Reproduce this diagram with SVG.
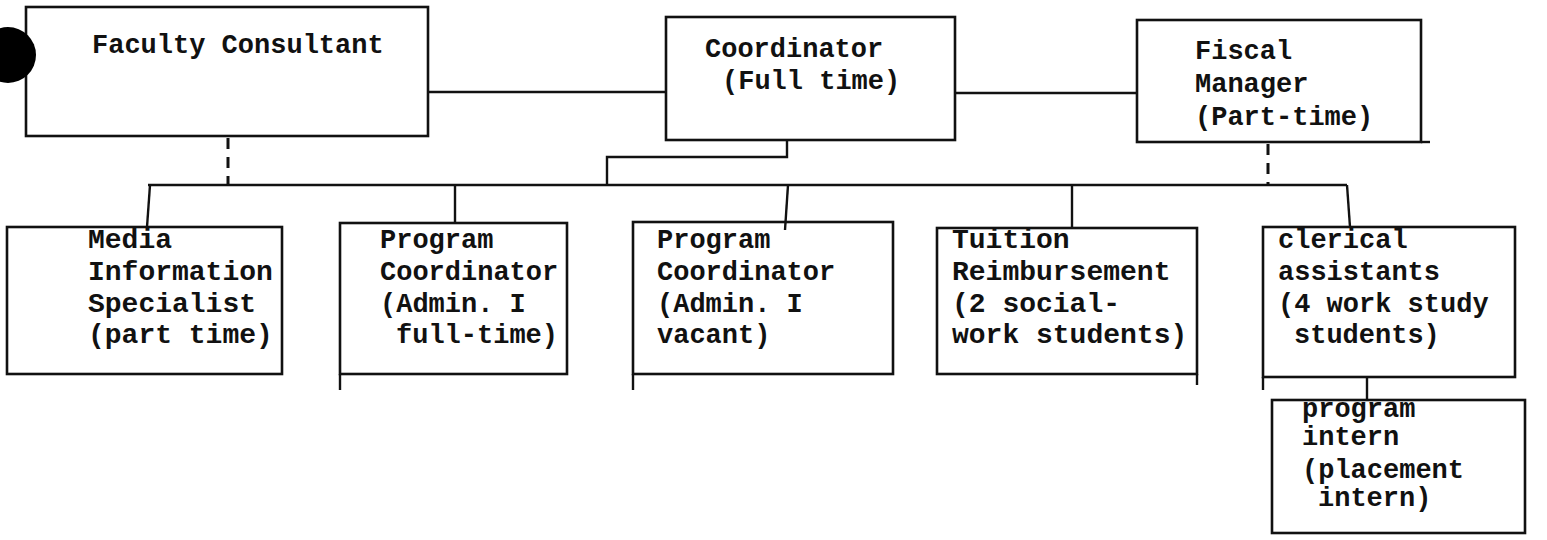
<svg xmlns="http://www.w3.org/2000/svg" width="1547" height="540" viewBox="0 0 1547 540">
<style>
.box{fill:none;stroke:#111;stroke-width:2.6}
.ln{fill:none;stroke:#111;stroke-width:2.4}
.dash{fill:none;stroke:#111;stroke-width:3;stroke-dasharray:11 8}
text{font-family:"Liberation Mono","DejaVu Sans Mono",monospace;font-size:27px;fill:#111;font-weight:bold}
.lg{font-size:28px}
</style>
<rect width="1547" height="540" fill="#fff"/>
<g id="connectors">
<line class="ln" x1="428" y1="92" x2="666" y2="92"/>
<line class="ln" x1="955" y1="93" x2="1137" y2="93"/>
<polyline class="ln" points="787,140 787,157 607,157 607,185"/>
<line class="ln" x1="148" y1="185" x2="1347" y2="185"/>
<line class="dash" x1="228" y1="138" x2="228" y2="185"/>
<line class="dash" x1="1268" y1="144" x2="1268" y2="185"/>
<line class="ln" x1="150" y1="185" x2="147" y2="227"/>
<line class="ln" x1="455" y1="185" x2="455" y2="223"/>
<line class="ln" x1="788" y1="185" x2="785" y2="230"/>
<line class="ln" x1="1072" y1="185" x2="1072" y2="228"/>
<line class="ln" x1="1347" y1="185" x2="1350" y2="227"/>
<line class="ln" x1="1367" y1="377" x2="1367" y2="400"/>
</g>
<g id="faculty">
<rect class="box" x="26" y="7" width="402" height="129"/>
<circle cx="8" cy="55" r="28" fill="#000"/>
<text x="92" y="53">Faculty Consultant</text>
</g>
<g id="coordinator">
<rect class="box" x="666" y="17" width="289" height="123"/>
<text x="705" y="57">Coordinator</text>
<text x="722" y="89">(Full time)</text>
</g>
<g id="fiscal">
<rect class="box" x="1137" y="20" width="284" height="122"/>
<line class="ln" x1="1421" y1="142" x2="1430" y2="142"/>
<text x="1195" y="59">Fiscal</text>
<text x="1195" y="92">Manager</text>
<text x="1195" y="125">(Part-time)</text>
</g>
<g id="media">
<rect class="box" x="7" y="227" width="275" height="147"/>
<text class="lg" x="88" y="248">Media</text>
<text class="lg" x="88" y="280">Information</text>
<text class="lg" x="88" y="312">Specialist</text>
<text class="lg" x="88" y="343">(part time)</text>
</g>
<g id="progcoord1">
<rect class="box" x="340" y="223" width="227" height="151"/>
<line class="ln" x1="340" y1="374" x2="340" y2="390"/>
<text x="380" y="248">Program</text>
<text x="380" y="280">Coordinator</text>
<text x="380" y="312">(Admin. I</text>
<text x="396" y="343">full-time)</text>
</g>
<g id="progcoord2">
<rect class="box" x="633" y="222" width="260" height="152"/>
<line class="ln" x1="633" y1="374" x2="633" y2="390"/>
<text x="657" y="248">Program</text>
<text x="657" y="280">Coordinator</text>
<text x="657" y="312">(Admin. I</text>
<text x="657" y="343">vacant)</text>
</g>
<g id="tuition">
<rect class="box" x="937" y="228" width="260" height="146"/>
<line class="ln" x1="1197" y1="374" x2="1197" y2="385"/>
<text class="lg" x="952" y="248">Tuition</text>
<text class="lg" x="952" y="280">Reimbursement</text>
<text class="lg" x="952" y="312">(2 social-</text>
<text class="lg" x="952" y="343">work students)</text>
</g>
<g id="clerical">
<rect class="box" x="1263" y="227" width="252" height="150"/>
<line class="ln" x1="1263" y1="377" x2="1263" y2="390"/>
<text x="1278" y="248">clerical</text>
<text x="1278" y="280">assistants</text>
<text x="1278" y="312">(4 work study</text>
<text x="1294" y="343">students)</text>
</g>
<g id="intern">
<rect class="box" x="1272" y="400" width="253" height="133"/>
<text x="1302" y="417">program</text>
<text x="1302" y="445">intern</text>
<text x="1302" y="478">(placement</text>
<text x="1318" y="506">intern)</text>
</g>
</svg>
